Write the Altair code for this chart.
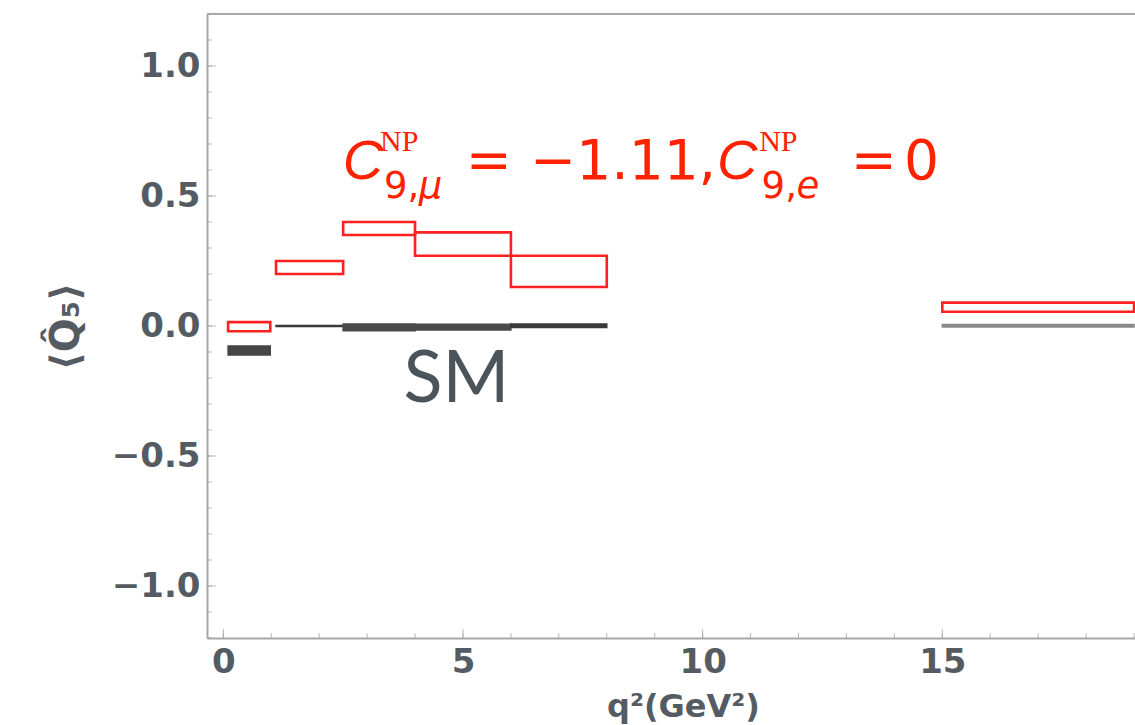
import altair as alt
import pandas as pd

# ---- data ----
bin_lo = [0.1, 1.1, 2.5, 4.0, 6.0, 15.0]
bin_hi = [0.98, 2.5, 4.0, 6.0, 8.0, 19.0]
np_lo = [-0.02, 0.20, 0.35, 0.27, 0.15, 0.055]
np_hi = [0.015, 0.25, 0.40, 0.36, 0.27, 0.09]
sm_lo = [-0.112, -0.002, -0.018, -0.015, -0.006, -0.004]
sm_hi = [-0.077, 0.002, 0.008, 0.007, 0.008, 0.006]
sm_col = ["#454545", "#3a3a3a", "#4a4a4a", "#4a4a4a", "#3a3a3a", "#8a8a8a"]

x_ticks = [0, 5, 10, 15]
y_ticks = [-1.0, -0.5, 0.0, 0.5, 1.0]
x_minor = list(range(0, 20))
y_minor = [round(-1.2 + 0.1 * i, 1) for i in range(25)]

# annotation pieces: C^{NP}_{9,mu} = -1.11, C^{NP}_{9,e} = 0
main_txt = ["=", "\u22121.11,", "=", "0"]
main_x = [5.06, 6.40, 13.09, 14.20]
ital_txt = ["C", "C"]
ital_x = [2.49, 10.30]
sup_txt = ["NP", "NP"]
sup_x = [3.27, 11.18]
sub_txt = ["9,", "9,"]
sub_x = [3.35, 11.23]
subi_txt = ["\u03bc", "e"]
subi_x = [4.08, 11.96]
y_main = 0.567
y_sup = 0.672
y_sub = 0.494

sm_label = ["SM"]
sm_label_x = [3.76]
sm_label_y = [-0.293]

W, H = 928, 624
RED = "#ff2200"
GREY = "#555b62"

xs = alt.Scale(domain=[-0.34, 19.02], nice=False, zero=False)
ys = alt.Scale(domain=[-1.2, 1.2], nice=False, zero=False)

df = pd.DataFrame({"lo": bin_lo, "hi": bin_hi, "np_lo": np_lo, "np_hi": np_hi,
                   "sm_lo": sm_lo, "sm_hi": sm_hi, "col": sm_col})

x_axis = alt.Axis(values=x_ticks, ticks=False, grid=False, labelFlush=False,
                  title="q\u00b2(GeV\u00b2)", titleX=476, titleY=78,
                  titleBaseline="alphabetic", titleAlign="center")
y_axis = alt.Axis(values=y_ticks, ticks=False, grid=False, labelFlush=False,
                  labelExpr="replace(format(datum.value, '.1f'), '-', '\u2212')",
                  title="\u27e8Q\u0302\u2085\u27e9", titleX=-121, titleY=312,
                  titleAngle=-90, titleBaseline="bottom", titleAlign="center")

np_boxes = alt.Chart(df).mark_rect(filled=False, stroke="#ff2020", strokeWidth=2.6).encode(
    x=alt.X("lo:Q", scale=xs, axis=x_axis),
    x2="hi:Q",
    y=alt.Y("np_lo:Q", scale=ys, axis=y_axis),
    y2="np_hi:Q",
)

sm_boxes = alt.Chart(df).mark_rect(strokeWidth=1.5).encode(
    x=alt.X("lo:Q", scale=xs, axis=x_axis),
    x2="hi:Q",
    y=alt.Y("sm_lo:Q", scale=ys, axis=y_axis),
    y2="sm_hi:Q",
    fill=alt.Fill("col:N", scale=None),
    stroke=alt.Stroke("col:N", scale=None),
)

# inward minor / major ticks
ym = pd.DataFrame({"v": y_minor})
xm = pd.DataFrame({"v": x_minor})
ymaj = pd.DataFrame({"v": y_ticks})
xmaj = pd.DataFrame({"v": x_ticks})
y_tick_minor = alt.Chart(ym).mark_tick(orient="horizontal", size=5, thickness=1, color="#9a9a9a").encode(
    y=alt.Y("v:Q", scale=ys, axis=y_axis), x=alt.value(2.5))
y_tick_major = alt.Chart(ymaj).mark_tick(orient="horizontal", size=9, thickness=1, color="#9a9a9a").encode(
    y=alt.Y("v:Q", scale=ys, axis=y_axis), x=alt.value(4.5))
x_tick_minor = alt.Chart(xm).mark_tick(orient="vertical", size=5, thickness=1, color="#9a9a9a").encode(
    x=alt.X("v:Q", scale=xs, axis=x_axis), y=alt.value(H - 2.5))
x_tick_major = alt.Chart(xmaj).mark_tick(orient="vertical", size=9, thickness=1, color="#9a9a9a").encode(
    x=alt.X("v:Q", scale=xs, axis=x_axis), y=alt.value(H - 4.5))

top_frame = alt.Chart(pd.DataFrame({"a": [0]})).mark_rule(color="#a8a8a8", strokeWidth=2).encode(
    x=alt.value(0), x2=alt.value(W), y=alt.value(0))


def text_layer(txts, xv, yv, font, size, style="normal", color=RED, weight="normal"):
    ycol = yv if isinstance(yv, list) else [yv] * len(txts)
    d = pd.DataFrame({"t": txts, "x": xv, "y": ycol})
    return alt.Chart(d).mark_text(align="left", baseline="alphabetic", font=font, fontSize=size,
                                  fontStyle=style, fontWeight=weight, color=color).encode(
        x=alt.X("x:Q", scale=xs, axis=x_axis), y=alt.Y("y:Q", scale=ys, axis=y_axis), text="t:N")


t_main = text_layer(main_txt, main_x, y_main, "DejaVu Sans", 55)
t_ital = text_layer(ital_txt, ital_x, y_main, "Liberation Sans", 56, style="italic")
t_sup = text_layer(sup_txt, sup_x, y_sup, "Liberation Serif", 30)
t_sub = text_layer(sub_txt, sub_x, y_sub, "DejaVu Sans", 37)
t_subi = text_layer(subi_txt, subi_x, y_sub, "DejaVu Sans", 37, style="italic")
t_sm = text_layer(sm_label, sm_label_x, sm_label_y, "Lato", 72, color="#4b535b")

chart = alt.layer(
    np_boxes, sm_boxes, y_tick_minor, y_tick_major, x_tick_minor, x_tick_major, top_frame,
    t_main, t_ital, t_sup, t_sub, t_subi, t_sm,
).properties(
    width=W, height=H,
    autosize=alt.AutoSizeParams(type="none"),
    padding={"left": 207, "top": 14, "right": 0, "bottom": 87},
).configure_view(stroke=None).configure(background="white").configure_axis(
    labelFont="DejaVu Sans", labelFontWeight="bold", labelFontSize=34, labelColor=GREY,
    domainColor="#a8a8a8", domainWidth=2,
    titleFont="DejaVu Sans", titleFontWeight="bold", titleColor=GREY,
).configure_axisX(labelPadding=7, titleFontSize=32).configure_axisY(labelPadding=7, titleFontSize=40)

chart.save("out.html", embed_options={"renderer": "svg", "actions": False})
